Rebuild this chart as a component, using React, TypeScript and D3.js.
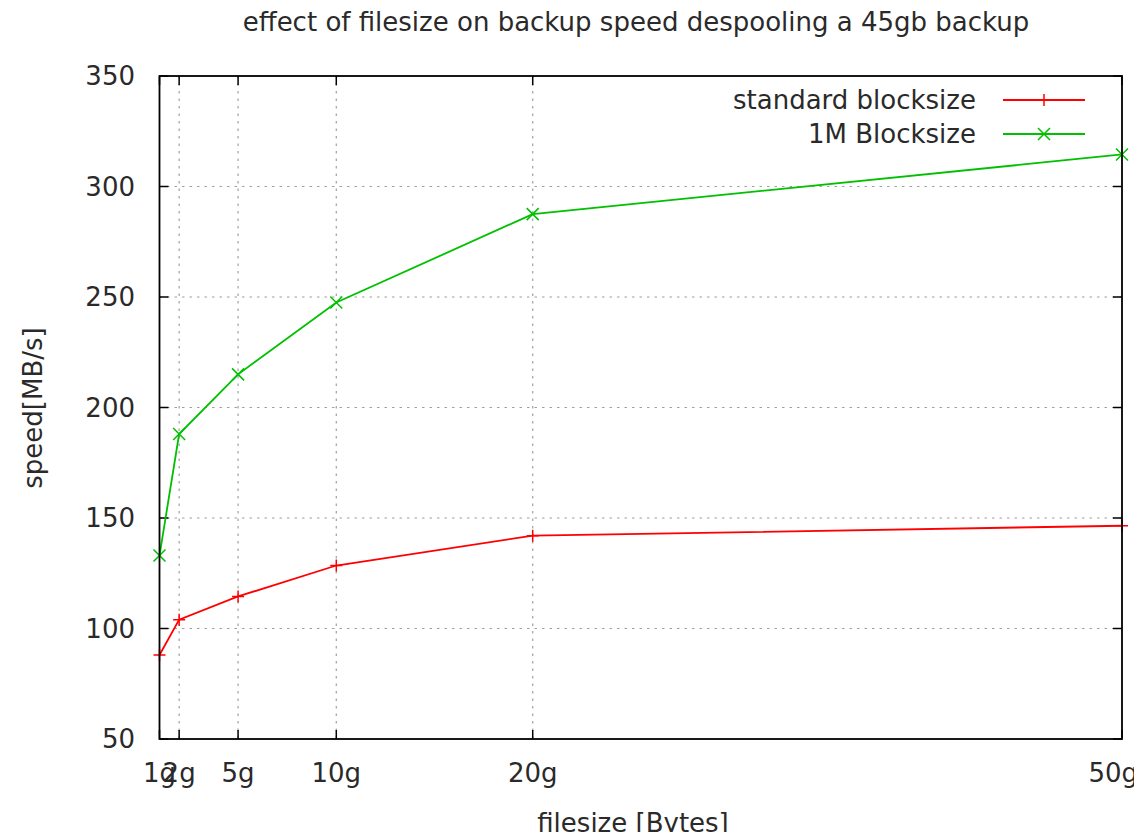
import * as d3 from 'd3';
import React, {useEffect, useRef} from 'react';

// filesize in GB, speeds in MB/s
const fileSizes = [1, 2, 5, 10, 20, 50];
const tickLabels = ['1g', '2g', '5g', '10g', '20g', '50g'];
const standardSpeed = [88, 104, 114.5, 128.5, 142, 146.5];
const bigBlockSpeed = [133, 188, 215, 247.5, 287.5, 314.5];
const yTicks = [50, 100, 150, 200, 250, 300, 350];

const seriesNames = ['standard blocksize', '1M Blocksize'];
const seriesColors = ['#ff0000', '#00c000'];

const FONT = '"DejaVu Sans", sans-serif';

export default function App() {
    const ref = useRef<SVGSVGElement>(null);

    useEffect(() => {
        const svg = d3.select(ref.current);
        svg.selectAll('*').remove();

        const left = 159.5, right = 1122, top = 76, bottom = 739;

        const x = d3.scaleLinear().domain([1, 50]).range([left, right]);
        const y = d3.scaleLinear().domain([50, 350]).range([bottom, top]);

        svg.append('rect')
            .attr('width', 1142).attr('height', 840).attr('fill', 'white');

        // grid
        const grid = svg.append('g')
            .attr('stroke', '#a0a0a0')
            .attr('stroke-width', 1.2)
            .attr('stroke-dasharray', '2.5,5');
        fileSizes.filter((d) => d > 1 && d < 50).forEach((d) => {
            grid.append('line')
                .attr('x1', x(d)).attr('x2', x(d))
                .attr('y1', top).attr('y2', bottom);
        });
        yTicks.filter((d) => d > 50 && d < 350).forEach((d) => {
            grid.append('line')
                .attr('x1', left).attr('x2', right)
                .attr('y1', y(d)).attr('y2', y(d));
        });

        // tick marks, mirrored on all sides
        const ticks = svg.append('g').attr('stroke', 'black').attr('stroke-width', 1.5);
        fileSizes.forEach((d) => {
            ticks.append('line').attr('x1', x(d)).attr('x2', x(d)).attr('y1', bottom).attr('y2', bottom - 9);
            ticks.append('line').attr('x1', x(d)).attr('x2', x(d)).attr('y1', top).attr('y2', top + 9);
        });
        yTicks.forEach((d) => {
            ticks.append('line').attr('x1', left).attr('x2', left + 9).attr('y1', y(d)).attr('y2', y(d));
            ticks.append('line').attr('x1', right).attr('x2', right - 9).attr('y1', y(d)).attr('y2', y(d));
        });

        // tick labels
        const labels = svg.append('g')
            .attr('font-family', FONT)
            .attr('font-size', 26)
            .attr('fill', '#2a2a2a');
        yTicks.forEach((d) => {
            labels.append('text')
                .attr('x', 135).attr('y', y(d))
                .attr('dy', '0.36em')
                .attr('text-anchor', 'end')
                .text(d);
        });
        fileSizes.forEach((d, i) => {
            // gnuplot keeps the last label inside the canvas
            const last = i === fileSizes.length - 1;
            labels.append('text')
                .attr('x', last ? 1138 : x(d)).attr('y', 782)
                .attr('text-anchor', last ? 'end' : 'middle')
                .text(tickLabels[i]);
        });

        // titles
        labels.append('text')
            .attr('x', 636).attr('y', 31)
            .attr('text-anchor', 'middle')
            .text('effect of filesize on backup speed despooling a 45gb backup');
        labels.append('text')
            .attr('x', 633).attr('y', 832)
            .attr('text-anchor', 'middle')
            .text('filesize [Bytes]');
        labels.append('text')
            .attr('transform', 'translate(42,408) rotate(-90)')
            .attr('text-anchor', 'middle')
            .text('speed[MB/s]');

        // data lines
        const line = d3.line<number>()
            .x((d, i) => x(fileSizes[i]))
            .y((d) => y(d));

        const plotMarker = (g, cx, cy, kind, color) => {
            const s = 6;
            if (kind === 0) {
                g.append('path')
                    .attr('d', `M${cx - s},${cy}H${cx + s}M${cx},${cy - s}V${cy + s}`)
                    .attr('stroke', color).attr('stroke-width', 1.5).attr('fill', 'none');
            } else {
                g.append('path')
                    .attr('d', `M${cx - s},${cy - s}L${cx + s},${cy + s}M${cx - s},${cy + s}L${cx + s},${cy - s}`)
                    .attr('stroke', color).attr('stroke-width', 1.5).attr('fill', 'none');
            }
        };

        [standardSpeed, bigBlockSpeed].forEach((series, k) => {
            const g = svg.append('g');
            g.append('path')
                .datum(series)
                .attr('d', line)
                .attr('fill', 'none')
                .attr('stroke', seriesColors[k])
                .attr('stroke-width', 1.8);
            series.forEach((v, i) => plotMarker(g, x(fileSizes[i]), y(v), k, seriesColors[k]));

            // legend
            const ly = 100 + k * 34;
            labels.append('text')
                .attr('x', 976).attr('y', ly)
                .attr('dy', '0.36em')
                .attr('text-anchor', 'end')
                .text(seriesNames[k]);
            g.append('line')
                .attr('x1', 1003).attr('x2', 1085)
                .attr('y1', ly).attr('y2', ly)
                .attr('stroke', seriesColors[k]).attr('stroke-width', 1.8);
            plotMarker(g, 1044, ly, k, seriesColors[k]);
        });

        // frame
        svg.append('rect')
            .attr('x', left).attr('y', top)
            .attr('width', right - left).attr('height', bottom - top)
            .attr('fill', 'none')
            .attr('stroke', 'black')
            .attr('stroke-width', 1.8);
    }, []);

    return (
        <svg ref={ref} width={1142} height={840}
            style={{display: 'block', margin: -8}} />
    );
}
